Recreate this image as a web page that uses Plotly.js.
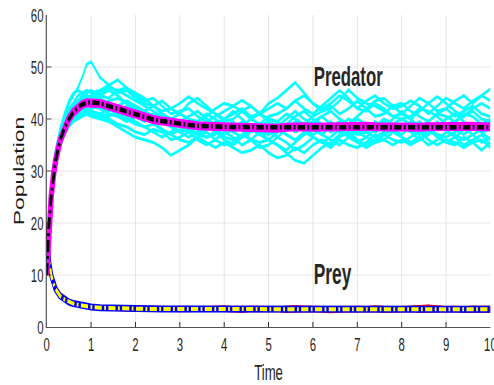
<!DOCTYPE html>
<html>
<head>
<meta charset="utf-8">
<script src="https://cdn.plot.ly/plotly-3.0.1.min.js"></script>
<style>
html,body{margin:0;padding:0;background:#fff;overflow:hidden;}
#wrap{width:494px;height:385px;overflow:hidden;position:relative;}
#chart{width:825px;height:385px;transform:scale(0.5988,1);transform-origin:0 0;position:absolute;left:0;top:0;}
</style>
</head>
<body>
<div id="wrap"><div id="chart"></div></div>
<script>
// time grid
var t = [0,0.05,0.1,0.15,0.2,0.3,0.4,0.5,0.6,0.7,0.8,0.9,1.0,
  1.2,1.4,1.6,1.8,2.0, 2.2,2.4,2.6,2.8,3.0, 3.2,3.4,3.6,3.8,4.0, 4.2,4.4,4.6,4.8,5.0,
  5.2,5.4,5.6,5.8,6.0, 6.2,6.4,6.6,6.8,7.0, 7.2,7.4,7.6,7.8,8.0, 8.2,8.4,8.6,8.8,9.0, 9.2,9.4,9.6,9.8,10.0];

// stochastic predator realizations
var pred1 = [10,20,26,30.5,33.5,37.5,40.5,43,44.5,46,48,50.5,51, 48,46.5,45,45.5,44, 43,42.5,43.5,42,41, 43,44,42.5,41,40, 41.5,40,38.5,39,40.5, 41,42,43.5,42,41, 42.5,44,45.5,44,42, 41.5,43,42,40.5,41, 42.5,44,43,41.5,42, 43.5,44.5,43,44.5,45.8];
var pred2 = [10,18.5,24,28,31,34.5,37,38.5,39.5,40,40.5,41,40.5, 40,39.5,38.5,37.5,36.5, 36,35.5,34.5,33,34, 35,36.5,35.5,34.5,35.5, 34.5,33.5,34,35,33.5, 32.5,33,34.5,33.5,35, 36,35,36.5,37.5,36, 35,36,37,36,35.5, 36.5,37.5,36,35,36, 35.5,34.5,35.5,36,34.5];
var pred3 = [10,19.5,25.5,29.5,32.5,36.5,39.5,41.5,43,44.5,45,45.5,45, 45.5,46.5,47.5,46,45, 44,42.5,41.5,42,43, 44.3,43,42,41,39.5, 40,41.5,42.5,41,39.5, 38.5,40,41.5,40,39, 40.5,41.5,40,39,40.5, 42,43.5,44,42.5,41, 40,41.5,43,44.3,43, 41.5,40.5,42,43,42];
var pred4 = [10,19,25,29,32,35.5,38,40,41,42,42.5,43,43.5, 44,43,42,41.5,40.5, 39.5,40.5,41,40,38.5, 37.5,38.5,39.5,38,37, 38,39.5,38.5,37,36, 37.5,39,40.5,41.5,40, 39,37.5,38.5,40,39, 37.5,38.5,40,39,38, 39.5,38,37,38.5,40, 41,39.5,38,39,40];
var pred5 = [10,18,23.5,27.5,30.5,34.5,37,39,40,40.5,41,41.5,41, 40.5,40,39,38.5,37.5, 37,38,37.5,36,36.5, 37.5,36,35,36,37.5, 36.5,35,36,37.5,36, 35,34,35.5,37,38, 37,36,35,36.5,37.5, 36.5,35.5,36,37.5,36.5, 35.5,36.5,35,36,37.5, 37,36,37,35.5,36.5];
var pred6 = [10,21,27,31,34,38,41,43.5,45,45.5,45,44.5,44, 43,42,41.5,42.5,41.5, 40.5,41,40,39,39.5, 40.5,41.5,40,39,40, 41,42,40.5,41,43, 44,45.5,47,45,43, 41.5,42.5,41,42,43.5, 42,40.5,41,42.5,43, 41.5,40.5,39.5,41,42, 40.5,41.5,42.5,41,40.5];
var pred7 = [10,19,24.5,28.5,31.5,35,37.5,39,40.5,41,41.5,41.5,42, 42.5,43.5,44,43,42, 41,39.5,38,37,38, 39,38,36.5,37,38.5, 39.5,38,36,35.5,36, 35,33.5,32,31.5,33, 34.5,35.5,37,38.5,37.5, 38,39.5,38.5,37.5,38.5, 37.5,36,37,38.5,39, 38,37,38.5,37.5,38];
var pred8 = [10,20,25.5,30,33,36.5,39,41,42,43,43.5,44,44.5, 45,46,45.5,44.5,43.5, 42.5,41.5,40.5,40,41, 40,39.5,40.5,42,43, 42.5,43.6,42.5,41,40, 39.5,41,40,39,40.5, 41.5,42,43.5,45.6,44, 43,42.5,41.5,40.5,40, 40.5,42,41.5,40.5,39, 39.5,41,40.5,39,38.5];
var pred9 = [10,18.5,24.5,28.5,31.5,35,37.5,39.5,40.5,41,41.5,41,40.5, 41,42,41,40,39, 38.5,37.5,36.5,37.5,39, 38.5,37,38,39.5,38.5, 37.5,36.5,37.5,38.5,39.5, 38.5,37,36,37.5,36.5, 35.5,36.5,38,37,35.5, 34.5,35.5,37,38,37, 38.5,39.5,38,36.5,35.5, 36.5,38,39,37.5,36];
var pred10 = [10,19.5,25,29,32.5,36,38.5,40.5,42,43,43.5,43.5,43, 42,41,40.5,39.5,40.5, 41.5,40.5,39.5,38.5,37.5, 36.5,37.5,38.5,37.5,36, 35,36.5,38,37,38, 39.5,38.5,37.5,38.5,37, 38,39.5,38,36.5,35.5, 36.5,38,39.5,38.5,39, 38,37,38,39.5,38, 36.5,35,36,37,35];
var pred11 = [10,19,25,29.5,32.5,36,39,41,42.5,43.5,44,44.5,44, 44.5,45.5,44.5,43,42.5, 41.5,42.5,41,40,39.5, 38.5,39.5,41,40,38.5, 37.5,38.5,40,39,37.5, 36.5,38,39.5,38.5,39.5, 40.5,39,37.5,38.5,40, 39,37.5,38.5,40,41.5, 40,38.5,39.5,41,40.5, 39.5,40.5,41.5,40,39.5];
var pred12 = [10,18,24,28,31,35,37.5,39.5,40.5,41.5,42,42.5,42.5, 42,41.5,42.5,43.5,42.5, 41.5,40.5,39.5,38.5,37.5, 38,37,36.5,37.5,36.5, 36,37,38.5,37.5,37, 38,37,36,37,38, 37,38.5,39.5,38,37, 37.5,36.5,37.5,39,40, 39,37.5,38.5,37,36.5, 37.5,38.5,37,38,39.5];
var pred13 = [10,20.5,26,30,33,37,40,42,43,43.5,44.5,45,45.5, 44.5,44,45.5,46,44.5, 43.5,44,42.5,41,41.5, 42,40.5,39.5,40.5,41.5, 42.5,41.5,40,41,42, 43,42,43.5,44.5,43, 42,43,44.5,43.5,42, 43.5,44.5,43,42,42.5, 43.5,42.5,41,42.5,44, 43,42,43.5,44.5,43.5];
var pred14 = [10,18.5,24,28.5,31.5,35.5,38,40,41,41.5,42,42,41.5, 41,40.5,41.5,40.5,39.5, 38.5,39,38,37,36, 35.5,36.5,37.5,36,35, 35.5,37,36,34.5,35, 36.5,35.5,34,35,36.5, 35.5,34.5,36,35,34.5, 35.5,37,36,35,36, 35,36,37.5,37,35.5, 35,36.5,35.5,34,35.5];

// stochastic prey realizations
var prey1 = [20,13.2,10.4,8.7,7.6,6.3,5.5,5.0,4.7,4.5,4.3,4.15,4.05, 3.9,3.8,3.9,3.75,3.7, 3.65,3.8,3.7,3.6,3.75, 3.8,3.7,3.65,3.75,3.85, 3.7,3.6,3.75,3.8,3.7, 3.65,3.75,3.9,3.8,3.7, 3.75,3.65,3.7,3.8,3.75, 3.7,3.85,3.75,3.65,3.7, 3.8,3.9,4.0,3.85,3.7, 3.75,3.65,3.8,3.85,3.75];
var prey2 = [20,12.4,9.7,8.1,7.0,5.8,5.1,4.6,4.3,4.1,3.9,3.8,3.7, 3.55,3.45,3.4,3.3,3.35, 3.25,3.2,3.3,3.25,3.15, 3.2,3.1,3.15,3.25,3.2, 3.1,3.05,3.15,3.2,3.1, 3.15,3.05,3.1,3.2,3.15, 3.1,3.0,3.1,3.15,3.05, 3.1,3.15,3.05,3.1,3.2, 3.15,3.05,3.1,3.0,3.1, 3.15,3.05,3.1,3.05,3.1];
var prey3 = [20,13.0,10.2,8.5,7.4,6.1,5.4,4.9,4.6,4.35,4.2,4.0,3.9, 3.75,3.65,3.6,3.55,3.6, 3.5,3.45,3.55,3.6,3.5, 3.45,3.55,3.6,3.5,3.4, 3.5,3.6,3.55,3.45,3.5, 3.6,3.55,3.5,3.6,3.7, 3.55,3.45,3.5,3.6,3.55, 3.5,3.6,3.5,3.45,3.55, 3.65,3.8,3.95,3.7,3.55, 3.5,3.6,3.55,3.45,3.5];
var prey4 = [20,12.6,9.9,8.3,7.2,5.9,5.2,4.7,4.4,4.2,4.0,3.85,3.8, 3.6,3.5,3.45,3.4,3.45, 3.35,3.4,3.3,3.35,3.4, 3.3,3.35,3.4,3.3,3.35, 3.4,3.3,3.35,3.45,3.35, 3.3,3.35,3.4,3.3,3.35, 3.4,3.3,3.35,3.4,3.3, 3.35,3.3,3.4,3.35,3.3, 3.4,3.35,3.3,3.4,3.35, 3.3,3.4,3.35,3.3,3.4];

// mean of realizations
var predMean = [10,19.5,25,29,32,35.8,38.3,40,41.3,42.2,42.8,43.1,43.2, 43.0,42.5,41.9,41.3,40.8, 40.3,39.9,39.6,39.3,39.0, 38.8,38.7,38.6,38.5,38.4, 38.3,38.2,38.3,38.4,38.3, 38.2,38.4,38.6,38.5,38.4, 38.5,38.6,38.5,38.4,38.5, 38.6,38.5,38.4,38.5,38.6, 38.5,38.4,38.5,38.6,38.5, 38.4,38.5,38.6,38.5,38.5];
var preyMean = [20,12.8,10,8.4,7.3,6.0,5.3,4.8,4.5,4.3,4.1,3.95,3.85, 3.7,3.62,3.56,3.52,3.5, 3.48,3.47,3.46,3.45,3.45, 3.44,3.44,3.43,3.43,3.42, 3.42,3.42,3.42,3.41,3.41, 3.41,3.41,3.41,3.4,3.4, 3.4,3.4,3.4,3.4,3.4, 3.4,3.4,3.4,3.4,3.4, 3.4,3.4,3.4,3.4,3.4, 3.4,3.4,3.4,3.4,3.4];

// deterministic solution
var predDet = [10,19.5,25,29,32,35.8,38.3,40,41.3,42.2,42.8,43.1,43.2, 43.0,42.5,41.9,41.3,40.8, 40.3,39.9,39.6,39.3,39.0, 38.85,38.7,38.6,38.55,38.5, 38.45,38.45,38.4,38.4,38.4, 38.4,38.4,38.4,38.4,38.4, 38.4,38.4,38.4,38.4,38.4, 38.4,38.4,38.4,38.4,38.4, 38.4,38.4,38.4,38.4,38.4, 38.4,38.4,38.4,38.4,38.4];
var preyDet = [20,12.8,10,8.4,7.3,6.0,5.3,4.8,4.5,4.3,4.1,3.95,3.85, 3.7,3.62,3.56,3.52,3.5, 3.48,3.47,3.46,3.45,3.45, 3.44,3.44,3.43,3.43,3.42, 3.42,3.42,3.42,3.41,3.41, 3.41,3.41,3.41,3.4,3.4, 3.4,3.4,3.4,3.4,3.4, 3.4,3.4,3.4,3.4,3.4, 3.4,3.4,3.4,3.4,3.4, 3.4,3.4,3.4,3.4,3.4];

var xTicks = [0,1,2,3,4,5,6,7,8,9,10];
var yTicks = [0,10,20,30,40,50,60];
var labelPredator = 'Predator';
var labelPrey = 'Prey';

var dashDot = '12px,4px,3px,4px';
var traces = [];
[prey1,prey2,prey3,prey4].forEach(function(s){
  traces.push({x:t, y:s, mode:'lines', line:{color:'#ff0000', width:3.5}, hoverinfo:'skip'});
});
traces.push({x:t, y:preyMean, mode:'lines', line:{color:'#0000ff', width:7}});
traces.push({x:t, y:preyDet, mode:'lines', line:{color:'#ffff00', width:4, dash:dashDot}});
[pred1,pred2,pred3,pred4,pred5,pred6,pred7,pred8,pred9,pred10,pred11,pred12,pred13,pred14].forEach(function(s){
  traces.push({x:t, y:s, mode:'lines', line:{color:'#00ffff', width:3}, hoverinfo:'skip'});
});
traces.push({x:t, y:predMean, mode:'lines', line:{color:'#ff00ff', width:9}});
traces.push({x:t, y:predDet, mode:'lines', line:{color:'#000000', width:4.5, dash:dashDot}});

var fam = '"Liberation Sans", Arial, Helvetica, sans-serif';
var tickFont = {family:fam, size:19, color:'#262626'};

var layout = {
  width:825, height:385,
  margin:{l:78, r:6, t:15, b:58},
  paper_bgcolor:'#ffffff', plot_bgcolor:'#ffffff',
  showlegend:false,
  xaxis:{
    range:[0,10], tickvals:xTicks, ticktext:xTicks.map(String),
    showline:true, linecolor:'#262626', linewidth:1, mirror:false,
    ticks:'inside', ticklen:5, tickwidth:1.6, tickcolor:'#262626',
    showgrid:true, gridcolor:'#e3e3e3', gridwidth:1.6, zeroline:false,
    tickfont:tickFont, ticklabeloverflow:'allow',
    title:{text:'Time', font:{family:fam, size:22, color:'#262626'}}
  },
  yaxis:{
    range:[0,60], tickvals:yTicks, ticktext:yTicks.map(String),
    showline:true, linecolor:'#262626', linewidth:1.6, mirror:false,
    ticks:'inside', ticklen:8, tickwidth:1, tickcolor:'#262626',
    showgrid:true, gridcolor:'#e3e3e3', gridwidth:1, zeroline:false,
    tickfont:tickFont, ticklabeloverflow:'allow',
    title:{text:'Population', standoff:4, font:{family:fam, size:23, color:'#1a1a1a'}}
  },
  annotations:[
    {x:6.79, y:48.1, xref:'x', yref:'y', text:'<b>'+labelPredator+'</b>', showarrow:false,
     font:{family:fam, size:28, color:'#262626'}},
    {x:6.44, y:10.2, xref:'x', yref:'y', text:'<b>'+labelPrey+'</b>', showarrow:false,
     font:{family:fam, size:29, color:'#262626'}}
  ]
};

Plotly.newPlot('chart', traces, layout, {displayModeBar:false, staticPlot:true});
</script>
</body>
</html>
